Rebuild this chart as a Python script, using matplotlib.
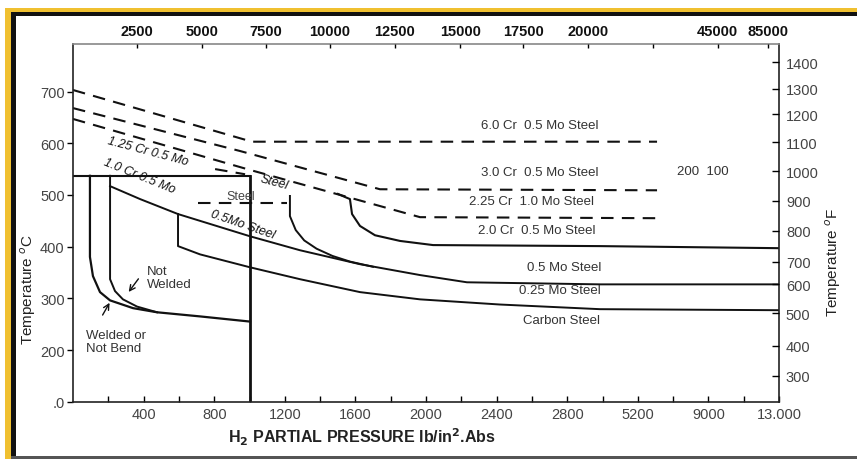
import matplotlib
matplotlib.use('Agg')
import matplotlib.pyplot as plt
from matplotlib.patches import Rectangle

plt.rcParams['font.family'] = ['Liberation Sans', 'DejaVu Sans']

W, H = 857, 460

# bottom axis: evenly spaced positions, non-linear labels
x_ticks = [400, 800, 1200, 1600, 2000, 2400, 2800, 3200, 3600, 4000]
x_labels = ['400', '800', '1200', '1600', '2000', '2400', '2800', '5200', '9000', '13.000']
x_minor = [200, 600, 1000, 1400, 1800, 2200, 2600, 3000, 3400, 3800]
top_ticks = [364, 729, 1092, 1456, 1824, 2193, 2552, 2920, 3288, 3653, 3940]
top_labels = ['2500', '5000', '7500', '10000', '12500', '15000', '17500', '20000', '', '45000', '85000']
y_ticks = [100, 200, 300, 400, 500, 600, 700]
y_labels = ['.0', '200', '300', '400', '500', '600', '700']
f_ticks = [150, 208, 271, 327, 371, 431, 489, 546, 602, 656, 705, 757]
f_labels = ['300', '400', '500', '600', '700', '800', '900', '1000', '1100', '1200', '1300', '1400']

# curves (pressure position, temperature C)
cr6_p = [0, 1014, 3309]
cr6_t = [703, 603, 603]
cr3_p = [0, 946, 1739, 3309]
cr3_t = [668, 585, 511, 509]
cr225_p = [0, 986, 1966, 3309]
cr225_t = [647, 550, 457, 455]
cr125_p = [805, 975]
cr125_t = [550, 540]
cr1_p = [708, 1212]
cr1_t = [484, 484]
cr1_down_p = [1229, 1229, 1262, 1310, 1380, 1470, 1570, 1700]
cr1_down_t = [498, 459, 432, 412, 396, 382, 371, 361]
cr2_p = [1501, 1541, 1569, 1581, 1626, 1711, 1853, 2040, 2986, 4000]
cr2_t = [502, 496, 492, 463, 440, 422, 411, 403, 401, 397]
mo05_p = [210, 380, 595, 1003, 1286, 1626, 1966, 2232, 2986, 4000]
mo05_t = [517, 492, 463, 420, 393, 366, 345, 331, 327, 327]
mo025_p = [595, 595, 720, 1003, 1286, 1626, 1966, 2419, 2986, 4000]
mo025_t = [463, 401, 385, 360, 337, 312, 298, 288, 279, 277]
weld_p = [96, 96, 113, 153, 210, 340, 476, 720, 1003]
weld_t = [537, 380, 343, 312, 296, 281, 273, 265, 255]
notweld_p = [210, 210, 238, 283, 363, 476]
notweld_t = [537, 337, 314, 298, 284, 273]
cs_top_p = [0, 1000]
cs_top_t = [537, 537]
line1000_p = [1000, 1000]
line1000_t = [100, 537]

fig = plt.figure(figsize=(W / 100, H / 100), dpi=100)


def prect(x, y, w, h, c):
    fig.add_artist(Rectangle((x / W, 1 - (y + h) / H), w / W, h / H,
                             transform=fig.transFigure, color=c, lw=0))


prect(5, 9, 6, 451, '#F0C030')
prect(5, 9, 852, 4, '#F0C030')
prect(11, 13, 5, 447, '#111111')
prect(11, 13, 846, 4, '#111111')
prect(11, 457, 846, 3, '#555555')

ax = fig.add_axes([73 / W, 1 - 402.7 / H, 706 / W, 357.7 / H])
ax.set_xlim(0, 4000)
ax.set_ylim(100, 792)

blk = '#111111'
dash = (0, (6, 4))
ax.plot(cr6_p, cr6_t, color=blk, lw=1.5, ls=dash)
ax.plot(cr3_p, cr3_t, color=blk, lw=1.5, ls=dash)
ax.plot(cr225_p, cr225_t, color=blk, lw=1.5, ls=dash)
ax.plot(cr125_p, cr125_t, color=blk, lw=1.5, ls=dash)
ax.plot(cr1_p, cr1_t, color=blk, lw=1.5, ls=dash)
ax.plot(cr1_down_p, cr1_down_t, color=blk, lw=1.4)
ax.plot(cr2_p, cr2_t, color=blk, lw=1.5)
ax.plot(mo05_p, mo05_t, color=blk, lw=1.4)
ax.plot(mo025_p, mo025_t, color=blk, lw=1.4)
ax.plot(weld_p, weld_t, color=blk, lw=1.6)
ax.plot(notweld_p, notweld_t, color=blk, lw=1.4)
ax.plot(cs_top_p, cs_top_t, color=blk, lw=1.5)
ax.plot(line1000_p, line1000_t, color=blk, lw=2)

tc = '#333333'
fs = 9.5
ax.text(2645, 636, '6.0 Cr  0.5 Mo Steel', ha='center', va='center', fontsize=fs, color=tc)
ax.text(2645, 545, '3.0 Cr  0.5 Mo Steel', ha='center', va='center', fontsize=fs, color=tc)
ax.text(2600, 488, '2.25 Cr  1.0 Mo Steel', ha='center', va='center', fontsize=fs, color=tc)
ax.text(2630, 432, '2.0 Cr  0.5 Mo Steel', ha='center', va='center', fontsize=fs, color=tc)
ax.text(2782, 361, '0.5 Mo Steel', ha='center', va='center', fontsize=fs, color=tc)
ax.text(2760, 316, '0.25 Mo Steel', ha='center', va='center', fontsize=fs, color=tc)
ax.text(2770, 258, 'Carbon Steel', ha='center', va='center', fontsize=fs, color=tc)
ax.text(3570, 547, '200  100', ha='center', va='center', fontsize=fs, color=tc)
ax.text(420, 340, 'Not\nWelded', ha='left', va='center', fontsize=fs, color=tc, linespacing=1.1)
ax.text(75, 216, 'Welded or\nNot Bend', ha='left', va='center', fontsize=fs, color=tc, linespacing=1.1)
ax.annotate('', xy=(306, 308), xytext=(380, 342),
            arrowprops=dict(arrowstyle='->', color=blk, lw=1))
ax.annotate('', xy=(215, 296), xytext=(160, 263),
            arrowprops=dict(arrowstyle='->', color=blk, lw=1))

ax.text(425, 585, '1.25 Cr 0.5 Mo', ha='center', va='center', fontsize=9,
        rotation=-15, style='italic', color=blk)
ax.text(1140, 525, 'Steel', ha='center', va='center', fontsize=9,
        rotation=-15, style='italic', color=blk)
ax.text(374, 538, '1.0 Cr 0.5 Mo', ha='center', va='center', fontsize=9,
        rotation=-22, style='italic', color=blk)
ax.text(952, 498, 'Steel', ha='center', va='center', fontsize=9, color='#444444')
ax.text(963, 443, '0.5Mo Steel', ha='center', va='center', fontsize=9,
        rotation=-19, style='italic', color=blk)

# bottom / left axes
ax.set_xticks(x_ticks)
ax.set_xticklabels(x_labels)
ax.set_xticks(x_minor, minor=True)
ax.set_yticks(y_ticks)
ax.set_yticklabels(y_labels)
ax.tick_params(axis='x', which='both', direction='in', length=4, width=1,
               labelsize=10.5, labelcolor='#444444', pad=4, top=False)
ax.tick_params(axis='y', direction='out', length=4, width=1,
               labelsize=10.5, labelcolor='#444444', pad=2, right=False)
for s in ax.spines.values():
    s.set_color('#222222')
    s.set_linewidth(1.2)
ax.spines['top'].set_color('#888888')

# top axis
axt = ax.twiny()
axt.set_xlim(0, 4000)
axt.set_xticks(top_ticks)
axt.set_xticklabels(top_labels, fontweight='bold')
axt.tick_params(axis='x', direction='in', length=3, width=1, labelsize=10.5,
                labelcolor='#111111', pad=4)

# right axis (deg F)
axr = ax.twinx()
axr.set_ylim(100, 792)
axr.set_yticks(f_ticks)
axr.set_yticklabels(f_labels)
axr.tick_params(axis='y', direction='in', length=5, width=1, labelsize=10.5,
                labelcolor='#444444', pad=5)
for a in (axt, axr):
    for s in a.spines.values():
        s.set_visible(False)

fig.text(228 / W, 1 - 437 / H, r'H$_\mathbf{2}$ PARTIAL PRESSURE lb/in$^\mathbf{2}$.Abs',
         ha='left', va='center', fontsize=11.5, fontweight='bold', color='#222222')
fig.text(28 / W, 1 - 289 / H, r'Temperature $^o$C', rotation=90, ha='center',
         va='center', fontsize=11, color='#222222')
fig.text(833 / W, 1 - 262 / H, r'Temperature $^o$F', rotation=90, ha='center',
         va='center', fontsize=11, color='#222222')

fig.savefig('out.png', dpi=100)
